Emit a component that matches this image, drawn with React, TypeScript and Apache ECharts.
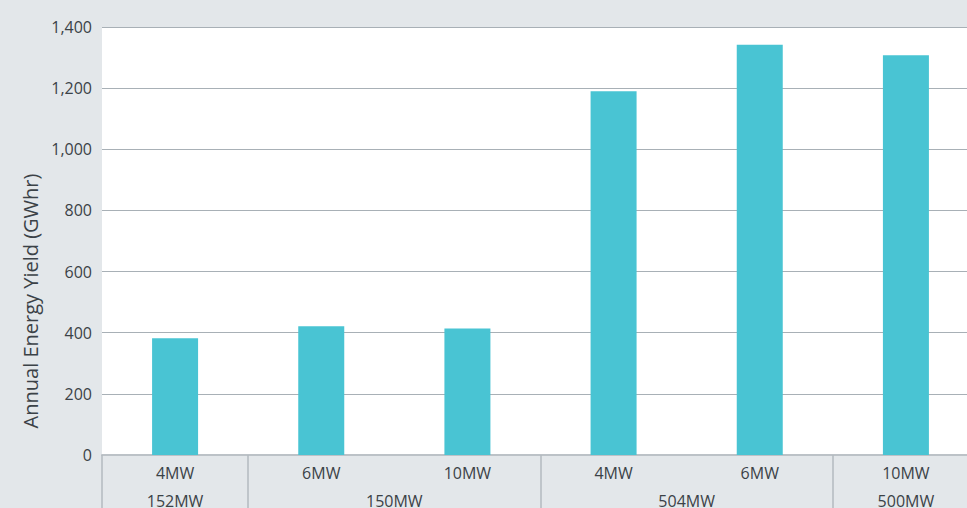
import React, { useEffect, useRef } from "react";
import * as echarts from "echarts";

const categories = ["4MW", "6MW", "10MW", "4MW", "6MW", "10MW"];
const yieldValues = [382, 421, 414, 1190, 1342, 1308];
const groupNames = ["152MW", "150MW", "504MW", "500MW"];
const groupSizes = [1, 2, 2, 1];
const yTicks = [0, 200, 400, 600, 800, 1000, 1200, 1400];
const yAxisTitle = "Annual Energy Yield (GWhr)";

const TEXT = "#3b4247";
const FONT = "'Open Sans', 'Noto Sans', sans-serif";

export default function App() {
  const ref = useRef<HTMLDivElement>(null);
  useEffect(() => {
    if (!ref.current) return;
    const chart = echarts.init(ref.current, undefined, { renderer: "svg" });

    const starts: number[] = [];
    const centers: Record<string, string> = {};
    let acc = 0;
    groupSizes.forEach((s, i) => {
      starts.push(acc);
      centers[String(acc + s / 2)] = groupNames[i];
      acc += s;
    });

    chart.setOption({
      animation: false,
      backgroundColor: "#e3e7ea",
      textStyle: { fontFamily: FONT },
      grid: {
        left: 102,
        top: 27,
        width: 877,
        bottom: 53,
        show: true,
        backgroundColor: "#ffffff",
        borderWidth: 0,
        containLabel: false,
        outerBoundsMode: "none",
      },
      xAxis: [
        {
          type: "category",
          data: categories,
          position: "bottom",
          axisLine: { show: true, lineStyle: { color: "#bcc2c7", width: 2 } },
          axisTick: {
            show: true,
            length: 60,
            interval: (i: number) => starts.includes(i),
            lineStyle: { color: "#b3babf", width: 1.5 },
          },
          axisLabel: {
            interval: 0,
            margin: 10,
            color: TEXT,
            fontSize: 16,
            fontFamily: FONT,
          },
        },
        {
          type: "value",
          position: "bottom",
          offset: 28,
          min: 0,
          max: acc,
          interval: 0.5,
          axisLine: { show: false },
          axisTick: { show: false },
          splitLine: { show: false },
          axisLabel: {
            margin: 10,
            color: TEXT,
            fontSize: 16,
            fontFamily: FONT,
            showMinLabel: true,
            showMaxLabel: true,
            formatter: (v: number) => centers[String(v)] || "",
          },
        },
      ],
      yAxis: {
        type: "value",
        min: yTicks[0],
        max: yTicks[yTicks.length - 1],
        interval: yTicks[1] - yTicks[0],
        axisLine: { show: false },
        axisTick: { show: false },
        splitLine: { lineStyle: { color: "#a8b0b6", width: 1 } },
        axisLabel: {
          margin: 10,
          color: TEXT,
          fontSize: 16,
          fontFamily: FONT,
          formatter: (v: number) => v.toLocaleString("en-US"),
        },
      },
      graphic: [
        {
          type: "text",
          x: 30,
          y: 301,
          rotation: Math.PI / 2,
          style: {
            text: yAxisTitle,
            fill: TEXT,
            fontSize: 20,
            fontFamily: FONT,
            textAlign: "center",
            textVerticalAlign: "middle",
          },
        },
      ],
      series: [
        {
          type: "bar",
          xAxisIndex: 0,
          data: yieldValues,
          barWidth: 46,
          itemStyle: { color: "#49c4d3" },
        },
      ],
    });
    return () => chart.dispose();
  }, []);
  return (
    <div
      ref={ref}
      style={{ position: "fixed", left: 0, top: 0, width: 967, height: 508 }}
    />
  );
}
